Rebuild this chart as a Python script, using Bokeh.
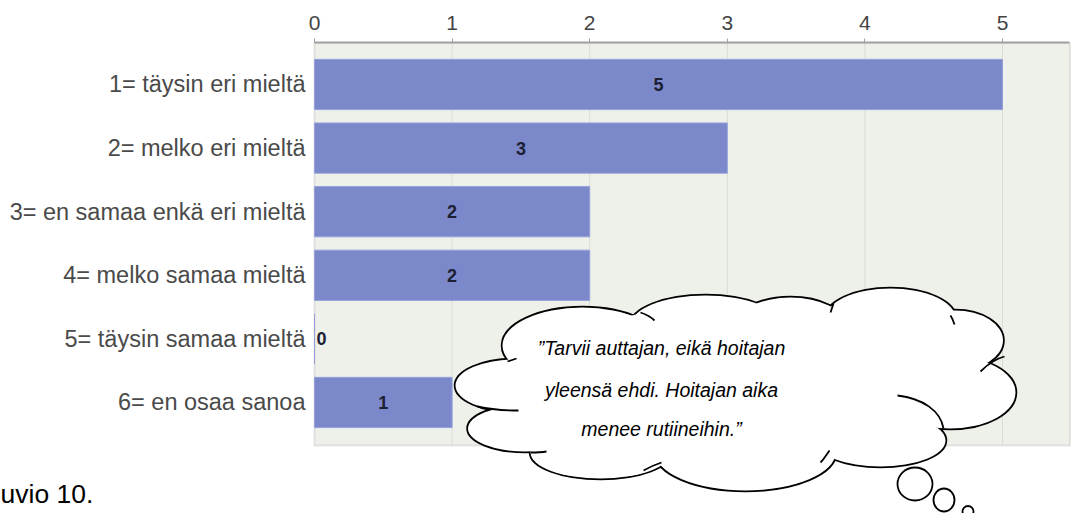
from bokeh.plotting import figure
from bokeh.models import Range1d, FixedTicker, BoxAnnotation, ColumnDataSource
from bokeh.core.properties import value
from bokeh.embed import file_html
from bokeh.resources import INLINE

# ---- data ----
categories = [
    "1= täysin eri mieltä",
    "2= melko eri mieltä",
    "3= en samaa enkä eri mieltä",
    "4= melko samaa mieltä",
    "5= täysin samaa mieltä",
    "6= en osaa sanoa",
]
counts = [5, 3, 2, 2, 0, 1]
x_ticks = [0, 1, 2, 3, 4, 5]
quote_lines = [
    "\u201dTarvii auttajan, eikä hoitajan",
    "yleensä ehdi. Hoitajan aika",
    "menee rutiineihin.\u201d",
]
caption = "uvio 10."

# ---- layout constants ----
W, H = 1073, 513
CHART_L, BORDER_T = 314, 42          # pixel position of x=0, frame top
PX_PER_X, PX_PER_Y = 137.6, 63.6
X_START = -CHART_L / PX_PER_X
X_END = (W - CHART_L) / PX_PER_X
CHART_RIGHT = 5.49
Y_TOP = -0.66
Y_FRAME_BOTTOM = Y_TOP + (H - BORDER_T) / PX_PER_Y
CHART_BOTTOM = 5.677
FONT = "Liberation Sans"

p = figure(width=W, height=H, x_range=Range1d(X_START, X_END),
           y_range=Range1d(Y_FRAME_BOTTOM, Y_TOP),
           x_axis_location="above", y_axis_location=None,
           toolbar_location=None, output_backend="svg",
           min_border_left=0, min_border_top=BORDER_T,
           min_border_right=0, min_border_bottom=0,
           background_fill_color="white", border_fill_color="white",
           outline_line_color=None)
# pixel coordinate ranges for the decorative callout
p.extra_x_ranges = {"px": Range1d(0, W)}
p.extra_y_ranges = {"px": Range1d(H, BORDER_T)}

p.xgrid.visible = False
p.ygrid.visible = False

# chart background with border
p.add_layout(BoxAnnotation(left=0, right=CHART_RIGHT, bottom=CHART_BOTTOM,
                           fill_color="#eef0ea", fill_alpha=1.0,
                           line_color="#ababab", line_width=2, level="image"))

# grid lines inside chart area
p.segment(x0=x_ticks[1:], y0=[Y_TOP] * 5, x1=x_ticks[1:],
          y1=[CHART_BOTTOM] * 5, line_color="#d9ddd4", line_width=1)

ys = list(range(len(categories)))
src = ColumnDataSource(dict(
    y=ys, v=counts, cat=categories,
    lx=[c / 2 for c in counts],
    la=["center" if c > 0 else "left" for c in counts],
    xo=[0 if c > 0 else 2 for c in counts],
    txt=[str(c) for c in counts],
))
p.hbar(y="y", left=0, right="v", height=0.79, source=src,
       fill_color="#7b88c9", line_color="#96a1dc", line_width=1)
p.text(x="lx", y="y", text="txt", text_align="la", x_offset="xo",
       text_baseline="middle", source=src, text_font=value(FONT),
       text_font_size="18px", text_font_style="bold", text_color="#1c2033")

# category labels (left of the chart)
p.text(x=0, y="y", text="cat", x_offset=-9, text_align="right",
       text_baseline="middle", source=src, text_font=value(FONT),
       text_font_size="23.5px", text_color="#4a4a4a")

# top axis
ax = p.xaxis[0]
ax.ticker = FixedTicker(ticks=x_ticks)
ax.bounds = (0, CHART_RIGHT)
ax.major_tick_out = 4
ax.major_tick_in = 0
ax.minor_tick_line_color = None
ax.axis_line_color = "#a0a0a0"
ax.axis_line_width = 2
ax.major_tick_line_color = "#a0a0a0"
ax.major_label_text_font = FONT
ax.major_label_text_font_size = "21px"
ax.major_label_text_color = "#444444"
ax.major_label_standoff = 9

# ---- thought-bubble callout (page-pixel coordinates) ----
lobes = [
    (582, 345, 160, 76),
    (515, 385, 120, 52),
    (525, 428, 115, 46),
    (600, 452, 140, 52),
    (745, 452, 180, 76),
    (880, 440, 130, 52),
    (950, 392, 130, 72),
    (955, 340, 95, 60),
    (890, 318, 130, 60),
    (705, 325, 150, 60),
    (790, 325, 110, 56),
]
lx_, ly_, lw_, lh_ = zip(*lobes)
p.ellipse(x=list(lx_), y=list(ly_), width=list(lw_), height=list(lh_),
          x_range_name="px", y_range_name="px",
          fill_color="white", line_color="black", line_width=3.5)
p.ellipse(x=list(lx_) + [738], y=list(ly_) + [385], width=list(lw_) + [440],
          height=list(lh_) + [160], x_range_name="px", y_range_name="px",
          fill_color="white", line_color=None)
# inner strokes of the cloud
strokes = [
    # x0, y0, cx0, cy0, cx1, cy1, x1, y1
    (897, 395, 922, 398, 940, 410, 943, 428),
    (980, 371, 988, 363, 996, 358, 1004, 356),
    (477, 406, 490, 409, 505, 410, 518, 410),
    (640, 312, 646, 314, 650, 316, 654, 320),
    (643, 470, 650, 466, 655, 464, 661, 462),
    (820, 462, 824, 458, 826, 454, 829, 450),
    (530, 452, 535, 452, 540, 452, 546, 451),
    (507, 361, 510, 360, 513, 359, 516, 358),
    (833, 303, 832, 306, 831, 309, 830, 312),
    (950, 315, 952, 318, 953, 321, 954, 324),
]
s = list(zip(*strokes))
p.bezier(x0=list(s[0]), y0=list(s[1]), cx0=list(s[2]), cy0=list(s[3]),
         cx1=list(s[4]), cy1=list(s[5]), x1=list(s[6]), y1=list(s[7]),
         x_range_name="px", y_range_name="px", line_color="black", line_width=1.8)

bubbles = [(914.5, 483.5, 35, 33), (943.5, 499.5, 21, 23), (967.5, 511, 11, 11)]
bx, by, bw, bh = zip(*bubbles)
p.ellipse(x=list(bx), y=list(by), width=list(bw), height=list(bh),
          x_range_name="px", y_range_name="px",
          fill_color="white", line_color="black", line_width=1.8)

p.text(x=[661] * 3, y=[347, 389, 428], text=quote_lines,
       x_range_name="px", y_range_name="px", text_font=value(FONT),
       text_font_style="italic", text_font_size="19.5px", text_align="center",
       text_baseline="middle", text_color="black")

p.text(x=[0], y=[493], text=[caption], x_range_name="px", y_range_name="px",
       text_font=value(FONT), text_font_size="26.5px", text_color="black",
       text_baseline="alphabetic", text_align="left")

open("out.html", "w").write(file_html(p, INLINE))
